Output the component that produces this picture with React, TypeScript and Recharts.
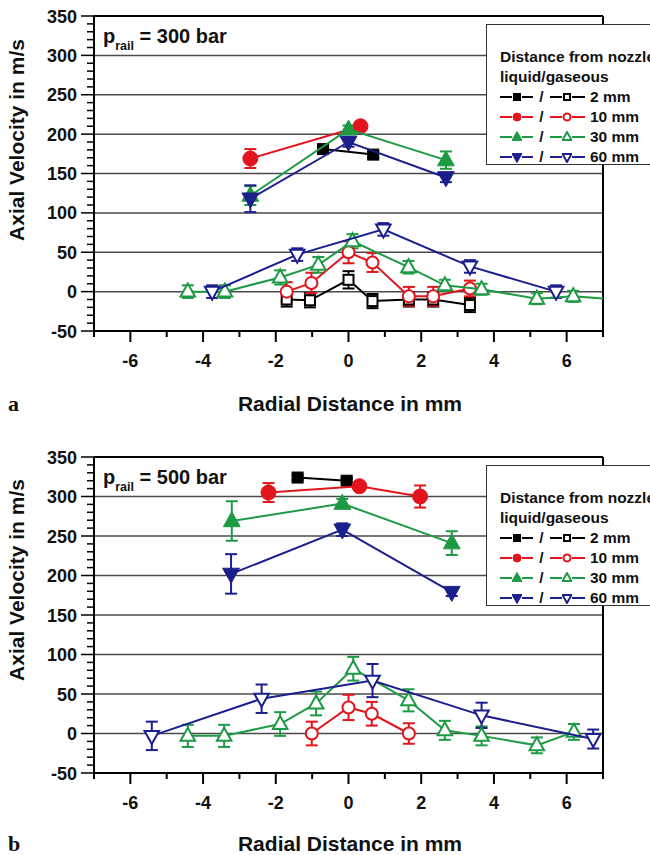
import React from 'react';
import { ScatterChart, Scatter, XAxis, YAxis, ErrorBar, ReferenceLine, Legend, Label } from 'recharts';

const FONT = "'Liberation Sans', Arial, Helvetica, sans-serif";

const BLACK = '#000000';
const RED = '#e3151c';
const GREEN = '#1e9a45';
const BLUE = '#1b1f8c';

const xTicks = [-7, -6, -5, -4, -3, -2, -1, 0, 1, 2, 3, 4, 5, 6, 7];
const xTickLabels = [-6, -4, -2, 0, 2, 4, 6];
const yTicks = [-50, -40, -30, -20, -10, 0, 10, 20, 30, 40, 50, 60, 70, 80, 90, 100, 110, 120, 130, 140, 150, 160, 170, 180, 190, 200, 210, 220, 230, 240, 250, 260, 270, 280, 290, 300, 310, 320, 330, 340, 350];
const yTickLabels = [-50, 0, 50, 100, 150, 200, 250, 300, 350];
const gridValues = [0, 50, 100, 150, 200, 250, 300];
const distances = ['2 mm', '10 mm', '30 mm', '60 mm'];

// ---------- p_rail = 300 bar ----------
const liq2mm300 = [{ r: -0.7, v: 181, e: 4 }, { r: 0.68, v: 174, e: 4 }];
const liq10mm300 = [{ r: -2.7, v: 169, e: 12 }, { r: 0.33, v: 210, e: 3 }];
const liq30mm300 = [{ r: -2.7, v: 122, e: 12 }, { r: 0, v: 206, e: 5 }, { r: 2.68, v: 167, e: 11 }];
const liq60mm300 = [{ r: -2.7, v: 118, e: 17 }, { r: 0, v: 190, e: 6 }, { r: 2.68, v: 145, e: 6 }];

const gas2mm300 = [
  { r: -1.7, v: -10, e: 9 }, { r: -1.06, v: -11, e: 9 }, { r: 0, v: 15, e: 11 }, { r: 0.66, v: -12, e: 9 },
  { r: 1.66, v: -10, e: 9 }, { r: 2.33, v: -10, e: 9 }, { r: 3.34, v: -17, e: 9 },
];
const gas10mm300 = [
  { r: -1.7, v: 0, e: 12 }, { r: -1.02, v: 11, e: 13 }, { r: 0, v: 50, e: 14 }, { r: 0.66, v: 37, e: 12 },
  { r: 1.66, v: -6, e: 12 }, { r: 2.33, v: -6, e: 12 }, { r: 3.34, v: 4, e: 10 },
];
const gas30mm300 = [
  { r: -4.42, v: 0, e: 8 }, { r: -3.4, v: 0, e: 8 }, { r: -1.88, v: 18, e: 9 }, { r: -0.83, v: 34, e: 10 },
  { r: 0.11, v: 64, e: 9 }, { r: 1.65, v: 31, e: 8 }, { r: 2.65, v: 8, e: 7 }, { r: 3.66, v: 3, e: 7 },
  { r: 5.18, v: -9, e: 7 }, { r: 6.18, v: -6, e: 7 }, { r: 7.4, v: -10, e: 0 },
];
const gas60mm300 = [
  { r: -3.75, v: 0, e: 8 }, { r: -1.41, v: 47, e: 8 }, { r: 0.96, v: 79, e: 8 }, { r: 3.34, v: 32, e: 8 },
  { r: 5.71, v: 0, e: 8 },
];

// ---------- p_rail = 500 bar ----------
const liq2mm500 = [{ r: -1.4, v: 324, e: 3 }, { r: -0.05, v: 320, e: 3 }];
const liq10mm500 = [{ r: -2.2, v: 305, e: 12 }, { r: 0.3, v: 313, e: 4 }, { r: 1.97, v: 300, e: 14 }];
const liq30mm500 = [{ r: -3.21, v: 269, e: 25 }, { r: -0.17, v: 291, e: 6 }, { r: 2.84, v: 241, e: 15 }];
const liq60mm500 = [{ r: -3.23, v: 202, e: 25 }, { r: -0.17, v: 258, e: 8 }, { r: 2.84, v: 179, e: 5 }];

const gas10mm500 = [
  { r: -1.01, v: 0, e: 15 }, { r: 0, v: 33, e: 16 }, { r: 0.64, v: 25, e: 15 }, { r: 1.66, v: 0, e: 13 },
];
const gas30mm500 = [
  { r: -4.42, v: -3, e: 14 }, { r: -3.42, v: -3, e: 14 }, { r: -1.88, v: 12, e: 15 }, { r: -0.89, v: 38, e: 15 },
  { r: 0.13, v: 82, e: 15 }, { r: 1.65, v: 42, e: 14 }, { r: 2.65, v: 4, e: 12 }, { r: 3.66, v: -3, e: 12 },
  { r: 5.18, v: -15, e: 10 }, { r: 6.2, v: 2, e: 10 },
];
const gas60mm500 = [
  { r: -5.41, v: -3, e: 18 }, { r: -2.39, v: 44, e: 18 }, { r: 0.66, v: 67, e: 21 }, { r: 3.66, v: 23, e: 16 },
  { r: 6.73, v: -7, e: 12 },
];

type Kind = 'square' | 'circle' | 'up' | 'down';

function drawMarker(kind: Kind, cx: number, cy: number, color: string, filled: boolean, s: number) {
  const fill = filled ? color : '#ffffff';
  const sw = filled ? 1 : 2;
  if (kind === 'square') {
    return <rect x={cx - s / 2} y={cy - s / 2} width={s} height={s} fill={fill} stroke={color} strokeWidth={sw} />;
  }
  if (kind === 'circle') {
    return <circle cx={cx} cy={cy} r={s / 2} fill={fill} stroke={color} strokeWidth={sw} />;
  }
  const w = s * 1.12;
  const h = s;
  const pts =
    kind === 'up'
      ? `${cx},${cy - h * 0.62} ${cx - w / 2},${cy + h * 0.38} ${cx + w / 2},${cy + h * 0.38}`
      : `${cx},${cy + h * 0.62} ${cx - w / 2},${cy - h * 0.38} ${cx + w / 2},${cy - h * 0.38}`;
  return <polygon points={pts} fill={fill} stroke={color} strokeWidth={sw} strokeLinejoin="miter" />;
}

const markerSize = (kind: Kind, filled: boolean) => {
  if (kind === 'square') return filled ? 11 : 10;
  if (kind === 'circle') return filled ? 15 : 12;
  return filled ? 15 : 13;
};

const shapeFor = (kind: Kind, color: string, filled: boolean) => (p: any) => {
  if (p == null || p.cx == null || p.cy == null) return <g />;
  return drawMarker(kind, p.cx, p.cy, color, filled, markerSize(kind, filled));
};

type Series = { key: string; data: any[]; color: string; kind: Kind; filled: boolean };

const topSeries: Series[] = [
  { key: 'g2', data: gas2mm300, color: BLACK, kind: 'square', filled: false },
  { key: 'g10', data: gas10mm300, color: RED, kind: 'circle', filled: false },
  { key: 'g30', data: gas30mm300, color: GREEN, kind: 'up', filled: false },
  { key: 'g60', data: gas60mm300, color: BLUE, kind: 'down', filled: false },
  { key: 'l2', data: liq2mm300, color: BLACK, kind: 'square', filled: true },
  { key: 'l10', data: liq10mm300, color: RED, kind: 'circle', filled: true },
  { key: 'l30', data: liq30mm300, color: GREEN, kind: 'up', filled: true },
  { key: 'l60', data: liq60mm300, color: BLUE, kind: 'down', filled: true },
];

const bottomSeries: Series[] = [
  { key: 'g10', data: gas10mm500, color: RED, kind: 'circle', filled: false },
  { key: 'g30', data: gas30mm500, color: GREEN, kind: 'up', filled: false },
  { key: 'g60', data: gas60mm500, color: BLUE, kind: 'down', filled: false },
  { key: 'l2', data: liq2mm500, color: BLACK, kind: 'square', filled: true },
  { key: 'l10', data: liq10mm500, color: RED, kind: 'circle', filled: true },
  { key: 'l30', data: liq30mm500, color: GREEN, kind: 'up', filled: true },
  { key: 'l60', data: liq60mm500, color: BLUE, kind: 'down', filled: true },
];

const legendKinds: Kind[] = ['square', 'circle', 'up', 'down'];
const legendColors = [BLACK, RED, GREEN, BLUE];

const legendSize = (k: Kind) => (k === 'square' ? 7 : k === 'circle' ? 8 : 9);

function Seg({ color, w }: { color: string; w: number }) {
  return <span style={{ display: 'block', flex: 'none', width: w, height: 2, background: color }} />;
}

function LegendMarker({ kind, color, filled }: { kind: Kind; color: string; filled: boolean }) {
  return (
    <svg width={10} height={12} style={{ display: 'block', flex: 'none' }}>
      {drawMarker(kind, 5, 6, color, filled, filled ? legendSize(kind) : legendSize(kind) - 1)}
    </svg>
  );
}

function LegendBox() {
  return (
    <div
      style={{
        boxSizing: 'border-box',
        width: 200,
        height: 141,
        background: '#ffffff',
        border: '1px solid #333',
        paddingTop: 22,
        paddingLeft: 13,
        fontFamily: FONT,
        fontWeight: 'bold',
        fontSize: 15.5,
        lineHeight: '20px',
        color: '#111',
        whiteSpace: 'nowrap',
        textAlign: 'left',
      }}
    >
      <div>Distance from nozzle</div>
      <div>liquid/gaseous</div>
      {distances.map((d, i) => (
        <div key={d} style={{ display: 'flex', alignItems: 'center', height: 20 }}>
          <Seg color={legendColors[i]} w={12} />
          <LegendMarker kind={legendKinds[i]} color={legendColors[i]} filled />
          <Seg color={legendColors[i]} w={11} />
          <span style={{ display: 'block', width: 17, textAlign: 'center', flex: 'none' }}>/</span>
          <Seg color={legendColors[i]} w={12} />
          <LegendMarker kind={legendKinds[i]} color={legendColors[i]} filled={false} />
          <Seg color={legendColors[i]} w={13} />
          <span style={{ marginLeft: 5 }}>{d}</span>
        </div>
      ))}
    </div>
  );
}

function XTick(p: any) {
  const { x, y, payload } = p;
  const v = payload.value;
  const major = xTickLabels.includes(v);
  return (
    <g>
      <line x1={x} x2={x} y1={y} y2={y + (major ? 11 : 6)} stroke="#000" strokeWidth={2} />
      {major && (
        <text x={x} y={y + 36} textAnchor="middle" fontFamily={FONT} fontWeight="bold" fontSize={18} fill="#111">
          {v}
        </text>
      )}
    </g>
  );
}

function YTick(p: any) {
  const { x, y, payload } = p;
  const v = payload.value;
  const major = yTickLabels.includes(v);
  return (
    <g>
      <line x1={x - (major ? 13 : 7)} x2={x} y1={y} y2={y} stroke="#000" strokeWidth={1.5} />
      {major && (
        <text x={x - 17} y={y + 6.5} textAnchor="end" fontFamily={FONT} fontWeight="bold" fontSize={18} fill="#111">
          {v}
        </text>
      )}
    </g>
  );
}

type PanelProps = {
  height: number;
  top: number;
  xAxisH: number;
  series: Series[];
  prail: string;
  letter: string;
  yTitleY: number;
  xTitleY: number;
  prailY: number;
  legendTop: number;
};

function Panel({ height, top, xAxisH, series, prail, letter, yTitleY, xTitleY, prailY, legendTop }: PanelProps) {
  return (
    <ScatterChart width={650} height={height} margin={{ top, right: 47, left: 0, bottom: 0 }}>
      {gridValues.map((g) => (
        <ReferenceLine key={'g' + g} y={g} stroke="#4a4a4a" strokeWidth={1.5} />
      ))}
      <ReferenceLine y={350} stroke="#000" strokeWidth={2} />
      <ReferenceLine x={7} stroke="#000" strokeWidth={2} />
      <XAxis
        type="number"
        dataKey="r"
        domain={[-7, 7]}
        ticks={xTicks}
        interval={0}
        allowDataOverflow
        height={xAxisH}
        tickSize={0}
        tickMargin={0}
        tickLine={false}
        tick={(p: any) => <XTick {...p} />}
        axisLine={{ stroke: '#000', strokeWidth: 2 }}
      >
        <Label
          content={() => (
            <g>
              <text x={350} y={xTitleY} textAnchor="middle" fontFamily={FONT} fontWeight="bold" fontSize={21} fill="#111">
                Radial Distance in mm
              </text>
              <text x={8} y={xTitleY} fontFamily="'Liberation Serif', 'Times New Roman', serif" fontWeight="bold" fontSize={22} fill="#111">
                {letter}
              </text>
            </g>
          )}
        />
      </XAxis>
      <YAxis
        type="number"
        dataKey="v"
        domain={[-50, 350]}
        ticks={yTicks}
        interval={0}
        width={94}
        tickSize={0}
        tickMargin={0}
        tickLine={false}
        tick={(p: any) => <YTick {...p} />}
        axisLine={{ stroke: '#000', strokeWidth: 2 }}
      >
        <Label
          content={() => (
            <g>
              <text
                transform={`translate(24,${yTitleY}) rotate(-90)`}
                textAnchor="middle"
                fontFamily={FONT}
                fontWeight="bold"
                fontSize={21}
                fill="#111"
              >
                Axial Velocity in m/s
              </text>
              <text x={103} y={prailY} fontFamily={FONT} fontWeight="bold" fontSize={20} fill="#111">
                p
                <tspan fontSize={12.5} dy={7}>rail</tspan>
                <tspan fontSize={20} dy={-7}>{' = ' + prail}</tspan>
              </text>
            </g>
          )}
        />
      </YAxis>
      {series.map((s) => (
        <Scatter
          key={s.key}
          name={s.key}
          data={s.data}
          dataKey="v"
          line={{ stroke: s.color, strokeWidth: 2 }}
          lineType="joint"
          shape={shapeFor(s.kind, s.color, s.filled)}
          isAnimationActive={false}
        >
          <ErrorBar dataKey="e" direction="y" width={6} stroke={s.color} strokeWidth={2} isAnimationActive={false} />
        </Scatter>
      ))}
      <Legend
        layout="horizontal"
        verticalAlign="middle"
        align="center"
        content={() => <LegendBox />}
        wrapperStyle={{ left: 486, top: legendTop, width: 200, height: 141 }}
      />
    </ScatterChart>
  );
}

export default function App() {
  return (
    <div style={{ position: 'absolute', left: 0, top: 0, width: 650, height: 855, overflow: 'hidden', background: '#fff' }}>
      <Panel
        height={430}
        top={16}
        xAxisH={99}
        series={topSeries}
        prail="300 bar"
        letter="a"
        yTitleY={140}
        xTitleY={411}
        prailY={43}
        legendTop={24}
      />
      <Panel
        height={425}
        top={27}
        xAxisH={82}
        series={bottomSeries}
        prail="500 bar"
        letter="b"
        yTitleY={150}
        xTitleY={421}
        prailY={54}
        legendTop={35}
      />
    </div>
  );
}
